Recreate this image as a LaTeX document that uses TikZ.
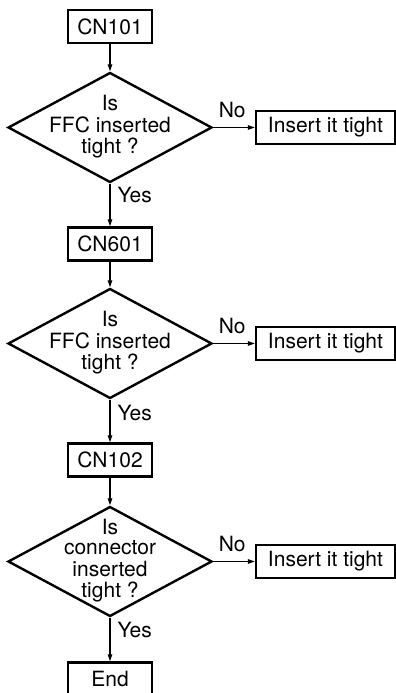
\documentclass[tikz,border=0pt]{standalone}
\usepackage{fontspec}
\setmainfont{TeX Gyre Heros}
\usetikzlibrary{arrows.meta, shapes.geometric}

\begin{document}
\begin{tikzpicture}[x=1pt, y=-1pt, >={Triangle[length=7pt, width=4.5pt]},
  every node/.style={font=\fontsize{21}{20.5}\selectfont},
  step box/.style={draw, line width=2.4pt, inner sep=0pt, minimum width=84pt, minimum height=33pt},
  fix box/.style={draw, line width=2.4pt, inner sep=0pt, minimum width=139pt, minimum height=33pt},
  decision/.style={diamond, draw, line width=2.4pt, inner sep=0pt, minimum width=204pt, minimum height=110pt},
  flow/.style={->, line width=1.2pt},
  lab/.style={inner sep=0pt}]
\useasboundingbox (0,0) rectangle (396,693);
% first check: CN101
\node[step box] (cn101) at (110,26.5) {CN101};
\node[decision] (q1) at (110,127.5) {\makebox[0pt]{\begin{tabular}{@{}c@{}}Is\\FFC inserted\\tight ?\end{tabular}}};
\node[fix box] (fix1) at (325.5,127.5) {Insert it tight};
% second check: CN601
\node[step box] (cn601) at (110,244) {CN601};
\node[decision] (q2) at (110,343.5) {\makebox[0pt]{\begin{tabular}{@{}c@{}}Is\\FFC inserted\\tight ?\end{tabular}}};
\node[fix box] (fix2) at (325.5,343.5) {Insert it tight};
% third check: CN102
\node[step box] (cn102) at (110,460) {CN102};
\node[decision] (q3) at (110,561.5) {\makebox[0pt]{\begin{tabular}{@{}c@{}}Is\\connector\\inserted\\tight ?\end{tabular}}};
\node[fix box] (fix3) at (325.5,561.5) {Insert it tight};
\node[step box] (fin) at (110,679) {End};
% connectors
\draw[flow] (cn101) -- (q1);
\draw[flow] (q1) -- node[lab, anchor=south west, xshift=5pt, yshift=9pt, pos=0] {No} (fix1);
\draw[flow] (q1) -- node[lab, anchor=base west, xshift=7pt, pos=0.43] {Yes} (cn601);
\draw[flow] (cn601) -- (q2);
\draw[flow] (q2) -- node[lab, anchor=south west, xshift=5pt, yshift=9pt, pos=0] {No} (fix2);
\draw[flow] (q2) -- node[lab, anchor=base west, xshift=7pt, pos=0.49] {Yes} (cn102);
\draw[flow] (cn102) -- (q3);
\draw[flow] (q3) -- node[lab, anchor=south west, xshift=5pt, yshift=9pt, pos=0] {No} (fix3);
\draw[flow] (q3) -- node[lab, anchor=base west, xshift=7pt, pos=0.46] {Yes} (fin);
\end{tikzpicture}
\end{document}
